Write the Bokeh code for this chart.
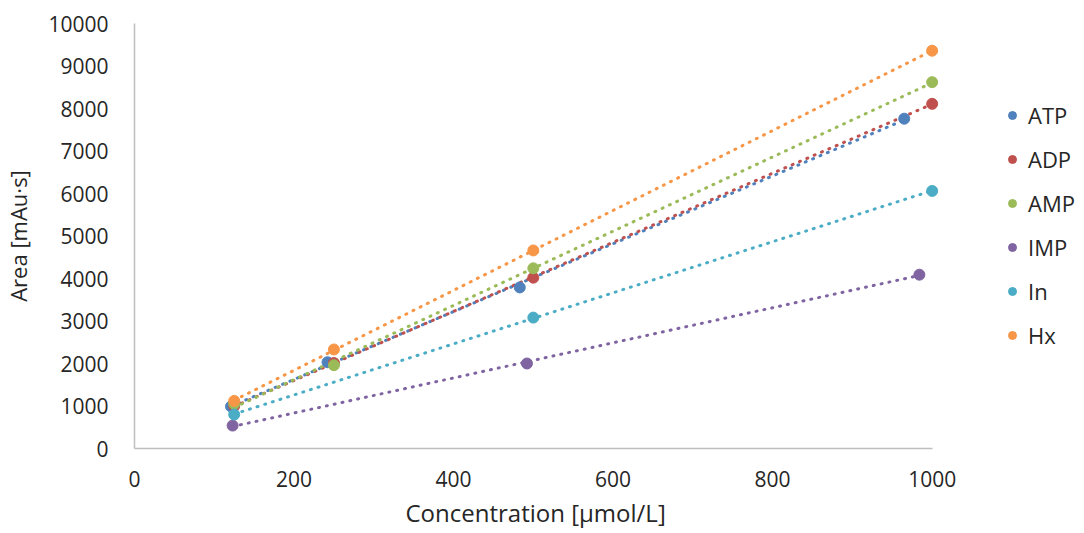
import numpy as np
from bokeh.plotting import figure
from bokeh.models import Legend, LegendItem, FixedTicker, ColumnDataSource, Title
from bokeh.embed import file_html
from bokeh.resources import INLINE

# Calibration data: concentration [µmol/L] vs peak area [mAu·s]
series_names = ["ATP", "ADP", "AMP", "IMP", "In", "Hx"]
series_colors = ["#4F81BD", "#C0504D", "#9BBB59", "#8064A2", "#4BACC6", "#F79646"]

conc_atp = [121, 242, 483, 965]
area_atp = [990, 2030, 3790, 7760]

conc_adp = [125, 250, 500, 1000]
area_adp = [1000, 2010, 4020, 8110]

conc_amp = [125, 250, 500, 1000]
area_amp = [1050, 1960, 4240, 8620]

conc_imp = [123, 492, 984]
area_imp = [540, 2000, 4090]

conc_in = [125, 500, 1000]
area_in = [800, 3080, 6060]

conc_hx = [125, 250, 500, 1000]
area_hx = [1120, 2330, 4660, 9360]

x_ticks = [0, 200, 400, 600, 800, 1000]
y_ticks = [0, 1000, 2000, 3000, 4000, 5000, 6000, 7000, 8000, 9000, 10000]

all_x = [conc_atp, conc_adp, conc_amp, conc_imp, conc_in, conc_hx]
all_y = [area_atp, area_adp, area_amp, area_imp, area_in, area_hx]

FONT = "Open Sans"
TEXT = "#262626"
AXIS = "#BFBFBF"

# the frame runs on to the right edge so the legend can sit beside the data;
# the x axis itself is bounded to 0..1000
p = figure(width=1084, height=533, x_range=(0, 1191), y_range=(0, 10000),
           output_backend="svg", toolbar_location=None,
           min_border_left=130, min_border_right=0,
           min_border_top=23, min_border_bottom=85)
p.outline_line_color = None
p.grid.grid_line_color = None
p.background_fill_color = "white"
p.border_fill_color = "white"

for ax, ticks in ((p.xaxis[0], x_ticks), (p.yaxis[0], y_ticks)):
    ax.ticker = FixedTicker(ticks=ticks)
    ax.axis_line_color = AXIS
    ax.axis_line_width = 1.5
    ax.major_tick_line_color = None
    ax.minor_tick_line_color = None
    ax.major_label_text_font = FONT
    ax.major_label_text_font_size = "21px"
    ax.major_label_text_color = TEXT
    ax.axis_label_text_font = FONT
    ax.axis_label_text_font_size = "22px"
    ax.axis_label_text_font_style = "normal"
    ax.axis_label_text_color = TEXT

p.xaxis.major_label_standoff = 16
p.yaxis.major_label_standoff = 20
p.xaxis.bounds = (0, 1000)
p.yaxis.axis_label = "Area [mAu·s]"
p.yaxis.axis_label_standoff = 12

# x axis title, centred under the bounded 0..1000 span
xtitle = Title(text="Concentration [µmol/L]", align="left", offset=271,
               text_font=FONT, text_font_size="24px", text_font_style="normal",
               text_color=TEXT, standoff=9)
p.add_layout(xtitle, "below")

# dotted linear trendlines spanning each series' concentration range
for xs, ys, c in zip(all_x, all_y, series_colors):
    k, b = np.polyfit(xs, ys, 1)
    x0, x1 = min(xs), max(xs)
    p.line([x0, x1], [k * x0 + b, k * x1 + b], line_color=c, line_width=3,
           line_dash="1 7", line_cap="round")

items = []
for name, xs, ys, c in zip(series_names, all_x, all_y, series_colors):
    src = ColumnDataSource(dict(x=xs, y=ys))
    r = p.scatter("x", "y", source=src, size=11, fill_color=c, line_color=c)
    items.append(LegendItem(label=name, renderers=[r]))

legend = Legend(items=items, location=(868, 98), orientation="vertical",
                label_text_font=FONT, label_text_font_size="22px",
                label_text_color=TEXT, glyph_width=20, glyph_height=20,
                label_height=20, spacing=14, padding=0, margin=0,
                label_standoff=6, border_line_color=None,
                background_fill_alpha=0)
p.add_layout(legend)

open("out.html", "w").write(file_html(p, INLINE))
